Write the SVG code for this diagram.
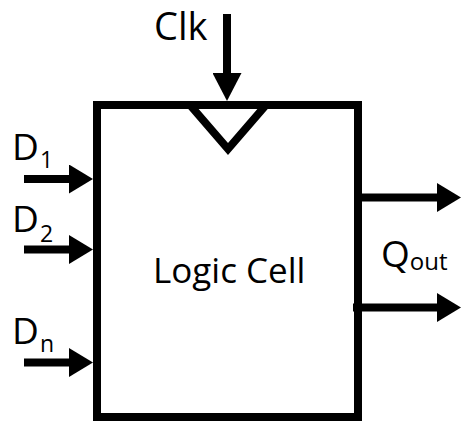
<svg xmlns="http://www.w3.org/2000/svg" width="461" height="422" viewBox="0 0 461 422">
  <style>
    .wire { stroke: #000; stroke-width: 8; fill: none; }
    .lbl { font-family: "Open Sans", "Liberation Sans", sans-serif; fill: #000; }
    .main { font-size: 37px; }
    .sub { font-size: 23px; }
  </style>
  <defs>
    <marker id="ah" viewBox="0 0 24 29" refX="0" refY="14.5" markerWidth="24" markerHeight="29" markerUnits="userSpaceOnUse" orient="auto">
      <path d="M0,0 L24,14.5 L0,29 Z" fill="#000"/>
    </marker>
    <marker id="ahClk" viewBox="0 0 28 29" refX="0" refY="14.5" markerWidth="28" markerHeight="29" markerUnits="userSpaceOnUse" orient="auto">
      <path d="M0,0 L28,14.5 L0,29 Z" fill="#000"/>
    </marker>
  </defs>
  <rect width="461" height="422" fill="#fff"/>

  <g id="logic-cell">
    <rect x="97" y="105" width="261" height="312" fill="#fff" stroke="#000" stroke-width="8"/>
    <polyline class="wire" points="190,105 228,149 266,105"/>
    <text class="lbl" x="153" y="283" font-size="35">Logic Cell</text>
  </g>

  <g id="clk">
    <text class="lbl" x="154" y="40" font-size="38">Clk</text>
  </g>
  <g id="d1">
    <text class="lbl main" x="12" y="160">D<tspan class="sub" x="40" y="168">1</tspan></text>
  </g>
  <g id="d2">
    <text class="lbl main" x="12" y="232">D<tspan class="sub" x="40" y="242">2</tspan></text>
  </g>
  <g id="dn">
    <text class="lbl main" x="12" y="344">D<tspan class="sub" x="40" y="352">n</tspan></text>
  </g>
  <g id="qout">
    <text class="lbl" x="381" y="267" font-size="37">Q<tspan font-size="24" y="270">out</tspan></text>
  </g>

  <g id="connectors">
    <line class="wire" x1="227" y1="14" x2="227" y2="73" marker-end="url(#ahClk)"/>
    <line class="wire" x1="24" y1="179" x2="69" y2="179" marker-end="url(#ah)"/>
    <line class="wire" x1="24" y1="249.5" x2="69" y2="249.5" marker-end="url(#ah)"/>
    <line class="wire" x1="24" y1="362.5" x2="69" y2="362.5" marker-end="url(#ah)"/>
    <line class="wire" x1="358" y1="197.5" x2="437" y2="197.5" marker-end="url(#ah)"/>
    <line class="wire" x1="353" y1="307.5" x2="437" y2="307.5" marker-end="url(#ah)"/>
  </g>
</svg>
